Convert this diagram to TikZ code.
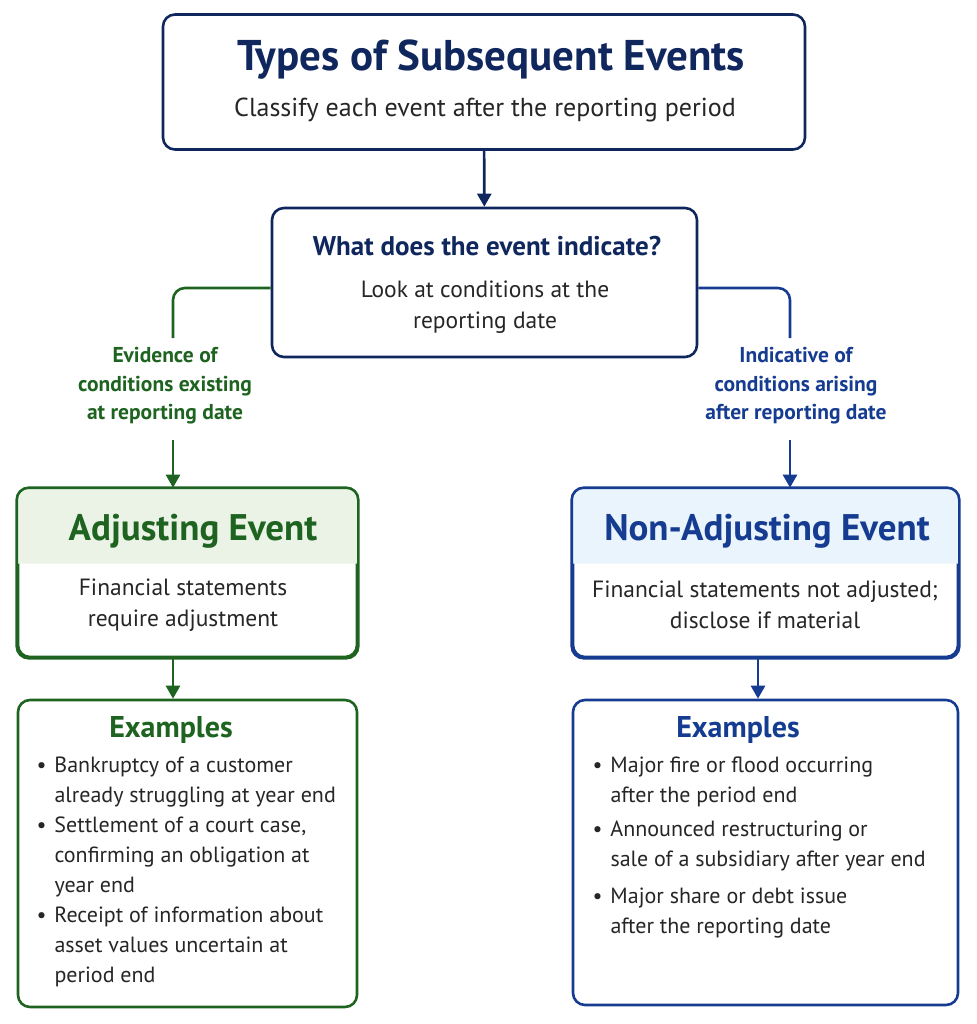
\documentclass[tikz,border=0pt]{standalone}
\usepackage{fontspec}
\setmainfont{PT Sans}
\usetikzlibrary{positioning,arrows.meta}
\definecolor{navy}{HTML}{10275E}
\definecolor{leaf}{HTML}{1E6420}
\definecolor{royal}{HTML}{163C91}
\definecolor{leafbg}{HTML}{EAF3E6}
\definecolor{royalbg}{HTML}{E9F4FD}
\begin{document}
\begin{tikzpicture}[x=1pt,y=-1pt,
box/.style={draw=#1, line width=2.6pt, rounded corners=12pt, fill=white, inner sep=0pt},
txt/.style={font=\fontsize{23.5}{31}\selectfont, text=black!85, align=center},
lbl/.style={font=\bfseries\fontsize{21.5}{28.5}\selectfont, align=center},
item/.style={font=\fontsize{22}{30}\selectfont, text=black!85, align=left, anchor=north west},
arr/.style={line width=2.6pt, -{Triangle[length=13pt,width=14pt]}}
]
\useasboundingbox (0,0) rectangle (976,1024);
%Boxes
\node[box=navy, minimum width=642, minimum height=135] (top) at (484,82) {};
\node[box=navy, minimum width=425, minimum height=149] (quest) at (484.5,282.5) {};
\node[box=leaf, minimum width=339, minimum height=168] (adj) at (187.5,573) {};
\node[box=royal, minimum width=385, minimum height=168] (nonadj) at (765.5,573) {};
\node[box=leaf, minimum width=339, minimum height=307] (exl) at (187.5,853.5) {};
\node[box=royal, minimum width=385, minimum height=305] (exr) at (765.5,852.5) {};
%Headers
\fill[leafbg] ([yshift=-76]adj.north west) [rounded corners=12pt] -- (adj.north west) -- (adj.north east) [sharp corners] -- ([yshift=-76]adj.north east) -- cycle;
\fill[royalbg] ([yshift=-76]nonadj.north west) [rounded corners=12pt] -- (nonadj.north west) -- (nonadj.north east) [sharp corners] -- ([yshift=-76]nonadj.north east) -- cycle;
\draw[leaf, line width=2.6pt, rounded corners=12pt] (adj.north west) rectangle (adj.south east);
\draw[royal, line width=2.6pt, rounded corners=12pt] (nonadj.north west) rectangle (nonadj.south east);
%Texts
\node[font=\bfseries\fontsize{43}{48}\selectfont, text=navy] (toptitle) at (491,60) {Types of Subsequent Events};
\node[txt, font=\fontsize{26}{30}\selectfont] (topsub) at (485,110) {Classify each event after the reporting period};
\node[font=\bfseries\fontsize{27}{30}\selectfont, text=navy] (qtitle) at (487,246) {What does the event indicate?};
\node[txt] (qsub) at (485,307) {Look at conditions at the\\reporting date};
\node[font=\bfseries\fontsize{37}{40}\selectfont, text=leaf] (adjtitle) at (193,531) {Adjusting Event};
\node[txt] (adjsub) at (183,605) {Financial statements\\require adjustment};
\node[font=\bfseries\fontsize{37}{40}\selectfont, text=royal] (nontitle) at (767,531) {Non-Adjusting Event};
\node[txt] (nonsub) at (765,605) {Financial statements not adjusted;\\disclose if material};
\node[font=\bfseries\fontsize{30}{34}\selectfont, text=leaf] (exltitle) at (171,730) {Examples};
\node[font=\bfseries\fontsize{30}{34}\selectfont, text=royal] (exrtitle) at (738,730) {Examples};
\node[item] (il1) at (33,753) {•\hspace{8pt}Bankruptcy of a customer\\\hspace{18pt}already struggling at year end};
\node[item, below=3pt of il1.south west, anchor=north west] (il2) {•\hspace{8pt}Settlement of a court case,\\\hspace{18pt}confirming an obligation at\\\hspace{18pt}year end};
\node[item, below=3pt of il2.south west, anchor=north west] (il3) {•\hspace{8pt}Receipt of information about\\\hspace{18pt}asset values uncertain at\\\hspace{18pt}period end};
\node[item] (ir1) at (589,753) {•\hspace{8pt}Major fire or flood occurring\\\hspace{18pt}after the period end};
\node[item, below=7pt of ir1.south west, anchor=north west] (ir2) {•\hspace{8pt}Announced restructuring or\\\hspace{18pt}sale of a subsidiary after year end};
\node[item, below=10pt of ir2.south west, anchor=north west] (ir3) {•\hspace{8pt}Major share or debt issue\\\hspace{18pt}after the reporting date};
%Branch labels
\node[lbl, text=leaf] (evid) at (165,386) {Evidence of\\conditions existing\\at reporting date};
\node[lbl, text=royal] (indic) at (796,386) {Indicative of\\conditions arising\\after reporting date};
%Lines
\coordinate (lsplit) at (173,338);
\coordinate (rsplit) at (790,338);
\coordinate (ltip) at (173,440);
\coordinate (rtip) at (790,440);
\draw[arr, navy] (top) -- (quest);
\draw[leaf, line width=2.6pt, rounded corners=12pt] (quest.west |- 0,288) -| (lsplit);
\draw[royal, line width=2.6pt, rounded corners=12pt] (quest.east |- 0,288) -| (rsplit);
\draw[arr, leaf] (ltip) -- (ltip |- adj.north);
\draw[arr, royal] (rtip) -- (rtip |- nonadj.north);
\draw[arr, leaf] (ltip |- adj.south) -- (ltip |- exl.north);
\draw[arr, royal] (758,0 |- nonadj.south) -- (758,0 |- exr.north);
\end{tikzpicture}
\end{document}
